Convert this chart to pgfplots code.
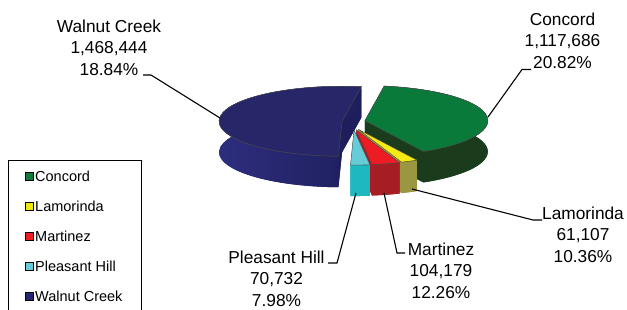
\documentclass[border=0pt]{standalone}
\usepackage{pgfplots}
\pgfplotsset{compat=1.18}
\usepackage{pgfplotstable}
\usepackage{fontspec}
\setmainfont{Liberation Sans}

\definecolor{coTop}{HTML}{0A7A3A}\definecolor{coSide}{HTML}{1B3B1D}
\definecolor{laTop}{HTML}{F5EB14}\definecolor{laSide}{HTML}{9B9640}
\definecolor{maTop}{HTML}{ED1C24}\definecolor{maSide}{HTML}{A51E24}
\definecolor{phTop}{HTML}{66CDD8}\definecolor{phSide}{HTML}{1EB8C0}
\definecolor{wcTop}{HTML}{262669}\definecolor{wcSideL}{HTML}{2E2E80}\definecolor{wcSideR}{HTML}{1E1E5C}
\definecolor{coLeg}{HTML}{0E7A3E}\definecolor{laLeg}{HTML}{F0E80A}
\definecolor{maLeg}{HTML}{EE1C25}\definecolor{phLeg}{HTML}{66CCDD}\definecolor{wcLeg}{HTML}{252570}

\pgfplotstableread{
name value pct
Concord 1117686 20.82
Lamorinda 61107 10.36
Martinez 104179 12.26
{Pleasant Hill} 70732 7.98
{Walnut Creek} 1468444 18.84
}\piedata

% geometry (1 axis unit = 1bp)
\def\Ox{353.5}\def\Oy{188}\def\rx{123}\def\ry{35}\def\dep{31}
\def\ex{11.5}\def\ek{0.7}\def\startangle{81}

% angles from the data
\def\tot{0}
\pgfplotsforeachungrouped \i in {0,...,4}{%
  \pgfplotstablegetelem{\i}{value}\of\piedata
  \xdef\tot{\fpeval{\tot+\pgfplotsretval}}}
\def\cum{0}
\pgfplotsforeachungrouped \i in {0,...,4}{%
  \pgfplotstablegetelem{\i}{value}\of\piedata
  \edef\v{\pgfplotsretval}%
  \expandafter\xdef\csname ahi\i\endcsname{\fpeval{round(\startangle-\cum*360/\tot,3)}}%
  \xdef\cum{\fpeval{\cum+\v}}%
  \expandafter\xdef\csname alo\i\endcsname{\fpeval{round(\startangle-\cum*360/\tot,3)}}}

\newcommand\slice[4]{%
  \edef\lo{\csname alo#1\endcsname}\edef\hi{\csname ahi#1\endcsname}%
  \edef\Ax{\fpeval{round(\Ox+\ex*cosd((\lo+\hi)/2),3)}}%
  \edef\Ay{\fpeval{round(\Oy+\ek*\ex*sind((\lo+\hi)/2),3)}}%
  \edef\Px{\fpeval{round(\Ax+\rx*cosd(\lo),3)}}\edef\Py{\fpeval{round(\Ay+\ry*sind(\lo),3)}}%
  \edef\Qx{\fpeval{round(\Ax+\rx*cosd(\hi),3)}}\edef\Qy{\fpeval{round(\Ay+\ry*sind(\hi),3)}}%
  \edef\Bay{\fpeval{\Ay-\dep}}\edef\Bpy{\fpeval{\Py-\dep}}\edef\Bqy{\fpeval{\Qy-\dep}}%
  \edef\cmd{%
    \noexpand\fill[#3] (axis cs:\Ax,\Bay) -- (axis cs:\Px,\Bpy) arc[start angle=\lo, end angle=\hi, x radius=\rx bp, y radius=\ry bp] -- cycle;
    \noexpand\fill[#3] (axis cs:\Ax,\Ay) -- (axis cs:\Px,\Py) -- (axis cs:\Px,\Bpy) -- (axis cs:\Ax,\Bay) -- cycle;
    \noexpand\fill[#3] (axis cs:\Ax,\Ay) -- (axis cs:\Qx,\Qy) -- (axis cs:\Qx,\Bqy) -- (axis cs:\Ax,\Bay) -- cycle;
    \noexpand\path[#4] (axis cs:\Px,\Py) arc[start angle=\lo, end angle=\hi, x radius=\rx bp, y radius=\ry bp] -- (axis cs:\Qx,\Bqy) arc[start angle=\hi, end angle=\lo, x radius=\rx bp, y radius=\ry bp] -- cycle;
    \noexpand\draw[black!75, line width=0.4pt] (axis cs:\Px,\Py) arc[start angle=\lo, end angle=\hi, x radius=\rx bp, y radius=\ry bp];
    \noexpand\fill[#2, draw=black!70, line width=0.4pt] (axis cs:\Ax,\Ay) -- (axis cs:\Px,\Py) arc[start angle=\lo, end angle=\hi, x radius=\rx bp, y radius=\ry bp] -- cycle;
  }\cmd}

\newcommand\lblfont{\fontsize{17.3bp}{20bp}\selectfont}
\newcommand\legfont{\fontsize{14.5bp}{17bp}\selectfont}

\begin{document}
\begin{tikzpicture}
\begin{axis}[
  at={(0,0)}, anchor=south west,
  scale only axis, width=627bp, height=310bp,
  xmin=0, xmax=627, ymin=0, ymax=310,
  hide axis, clip=false,
]
\slice{4}{wcTop}{wcSideR}{left color=wcSideL, right color=wcSideR}
\slice{0}{coTop}{coSide}{fill=coSide}
\slice{1}{laTop}{laSide}{fill=laSide}
\slice{2}{maTop}{maSide}{fill=maSide}
\slice{3}{phTop}{phSide}{fill=phSide}

% leader lines
\draw[line width=1.1pt] (axis cs:143,235) -- (axis cs:151,235) -- (axis cs:220,192);
\draw[line width=1.1pt] (axis cs:531,240.5) -- (axis cs:522,240.5) -- (axis cs:488,193);
\draw[line width=1.1pt] (axis cs:542,90) -- (axis cs:533,90) -- (axis cs:412,121);
\draw[line width=1.1pt] (axis cs:405,57) -- (axis cs:397,57) -- (axis cs:384,117);
\draw[line width=1.1pt] (axis cs:328,47) -- (axis cs:337,47) -- (axis cs:356,117);

% data labels
\newcommand\lbl[5]{%
  \node[anchor=base, inner sep=0pt, font=\lblfont] at (axis cs:#1,#2) {#3};
  \node[anchor=base, inner sep=0pt, font=\lblfont] at (axis cs:#1,#2-21.5) {#4};
  \node[anchor=base, inner sep=0pt, font=\lblfont] at (axis cs:#1,#2-43) {#5};}
\lbl{109}{278}{Walnut Creek}{1,468,444}{18.84\%}
\lbl{562.5}{285}{Concord}{1,117,686}{20.82\%}
\lbl{583}{91}{Lamorinda}{61,107}{10.36\%}
\lbl{441}{55}{Martinez}{104,179}{12.26\%}
\lbl{276.5}{47}{Pleasant Hill}{70,732}{7.98\%}

% legend
\draw[line width=0.8pt] (axis cs:8,149.5) rectangle (axis cs:141.5,-6);
\newcommand\leg[3]{%
  \draw[black, line width=0.7pt, fill=#1] (axis cs:25,#2-4) rectangle (axis cs:33,#2+4);
  \node[anchor=base west, inner sep=0pt, font=\legfont] at (axis cs:35,#2-5) {#3};}
\leg{coLeg}{134}{Concord}
\leg{laLeg}{104}{Lamorinda}
\leg{maLeg}{74}{Martinez}
\leg{phLeg}{44}{Pleasant Hill}
\leg{wcLeg}{14}{Walnut Creek}
\end{axis}
\pgfresetboundingbox
\path[use as bounding box] (0,0) rectangle (627bp,310bp);
\end{tikzpicture}
\end{document}
